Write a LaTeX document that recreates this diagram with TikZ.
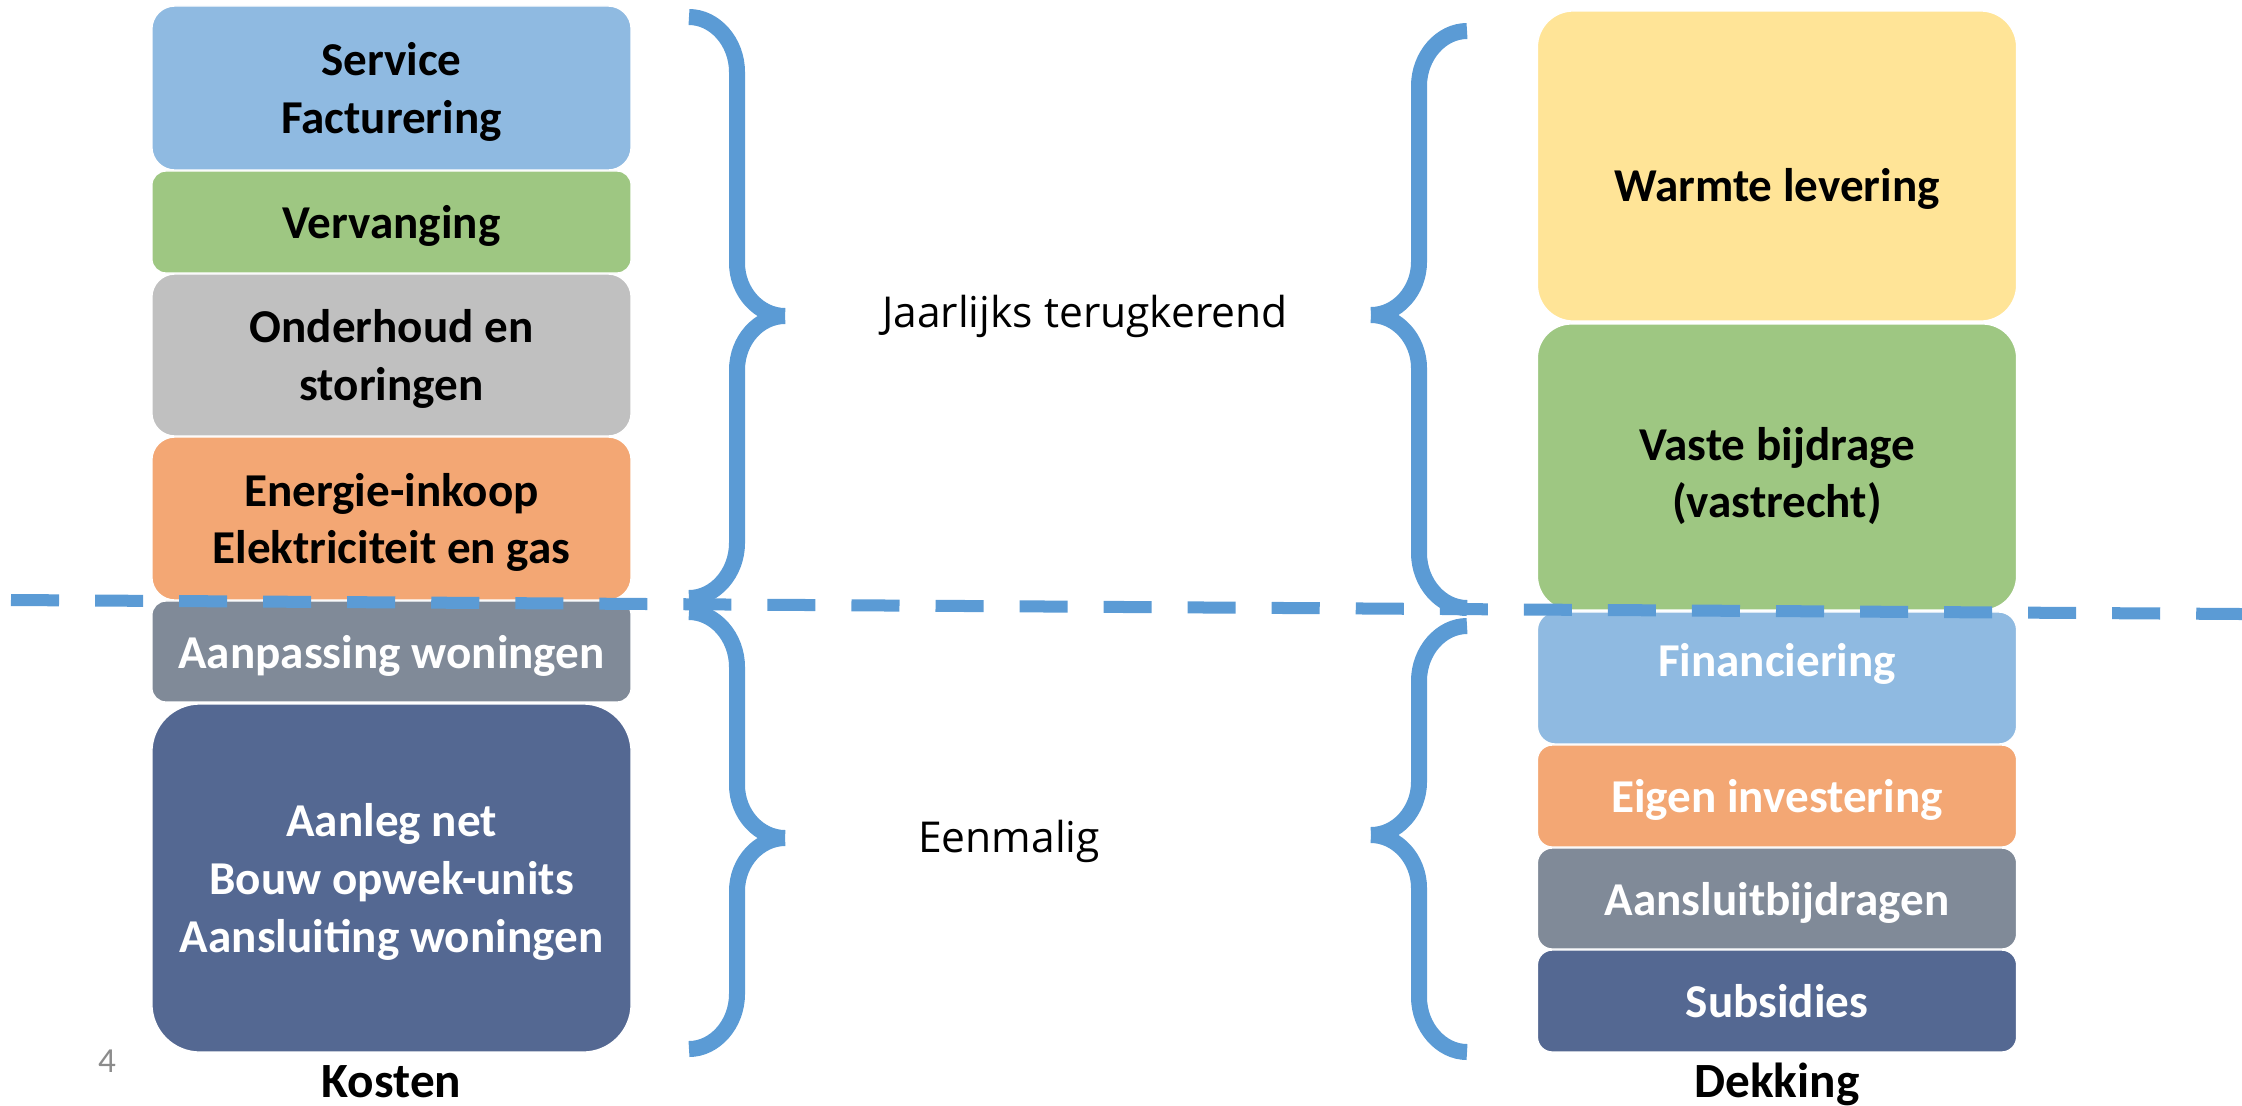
\documentclass[tikz,border=0pt]{standalone}
\usepackage{fontspec}
\setmainfont{Carlito}
\newfontfamily\midfont{Open Sans}
\definecolor{boxblue}{HTML}{8FBAE1}
\definecolor{boxgreen}{HTML}{9EC782}
\definecolor{boxgrey}{HTML}{C0C0C0}
\definecolor{boxorange}{HTML}{F3A774}
\definecolor{boxslate}{HTML}{808A98}
\definecolor{boxnavy}{HTML}{546892}
\definecolor{boxyellow}{HTML}{FFE497}
\definecolor{braceblue}{HTML}{5B9BD5}
\definecolor{pagegrey}{HTML}{8C8C8C}
\begin{document}
\begin{tikzpicture}[x=0.01cm,y=-0.01cm,
	boxtext/.style={font=\fontsize{13.4pt}{16.4pt}\selectfont\bfseries,align=center,text depth=0pt},
	box/.style={boxtext,rounded corners=#1,draw=white,line width=0.4pt,minimum width=4.79cm,inner sep=0pt},
	brace/.style={braceblue,line width=0.16cm},
	divider/.style={braceblue,line width=0.12cm,dash pattern=on 0.48cm off 0.36cm},
	midtext/.style={font=\midfont\fontsize{12.1pt}{14pt}\selectfont}]
	\useasboundingbox (0,0) rectangle (2242,1105);
	% Kosten
	\node[box=0.23cm,fill=boxblue,minimum height=1.64cm] (serv) at (391.5,88) {Service\\Facturering};
	\node[box=0.14cm,fill=boxgreen,minimum height=1.02cm] (verv) at (391.5,222) {Vervanging};
	\node[box=0.23cm,fill=boxgrey,minimum height=1.62cm] (onder) at (391.5,355) {Onderhoud en\\storingen};
	\node[box=0.23cm,fill=boxorange,minimum height=1.63cm] (energie) at (391.5,518.5) {Energie-inkoop\\Elektriciteit en gas};
	\node[box=0.14cm,fill=boxslate,minimum height=1.01cm,text=white] (aanpas) at (391.5,651.5) {Aanpassing woningen};
	\node[box=0.48cm,fill=boxnavy,minimum height=3.48cm,text=white] (aanleg) at (391.5,878) {Aanleg net\\Bouw opwek-units\\Aansluiting woningen};
	% Dekking
	\node[box=0.36cm,fill=boxyellow,minimum height=3.10cm,label={[boxtext,yshift=-0.19cm]center:Warmte levering}] (warmte) at (1777,166) {};
	\node[box=0.34cm,fill=boxgreen,minimum height=2.86cm,label={[boxtext,yshift=-0.055cm]center:{Vaste bijdrage\\(vastrecht)}}] (vaste) at (1777,467) {};
	\node[box=0.18cm,fill=boxblue,minimum height=1.32cm,label={[boxtext,text=white,yshift=0.185cm]center:Financiering}] (fin) at (1777,678) {};
	\node[box=0.15cm,fill=boxorange,minimum height=1.02cm,text=white] (eigen) at (1777,796) {Eigen investering};
	\node[box=0.15cm,fill=boxslate,minimum height=1.01cm,text=white] (aansl) at (1777,898.5) {Aansluitbijdragen};
	\node[box=0.15cm,fill=boxnavy,minimum height=1.02cm,text=white] (subs) at (1777,1001) {Subsidies};
	%Braces
	\draw[brace] (689,17) .. controls (715,17) and (737,42) .. (737,72) -- (737,263) .. controls (737,292) and (759,316) .. (785,316)
		(785,316) .. controls (759,316) and (737,340) .. (737,370) -- (737,543) .. controls (737,573) and (715,598) .. (689,598);
	\draw[brace] (689,612) .. controls (715,612) and (737,637) .. (737,667) -- (737,785) .. controls (737,814) and (759,838) .. (785,838)
		(785,838) .. controls (759,838) and (737,862) .. (737,891) -- (737,994) .. controls (737,1024) and (715,1049) .. (689,1049);
	\draw[brace] (1467,31) .. controls (1441,31) and (1419,56) .. (1419,86) -- (1419,262) .. controls (1419,291) and (1397,315) .. (1371,315)
		(1371,315) .. controls (1397,315) and (1419,339) .. (1419,368) -- (1419,553) .. controls (1419,583) and (1441,608) .. (1467,608);
	\draw[brace] (1467,626) .. controls (1441,626) and (1419,651) .. (1419,681) -- (1419,782) .. controls (1419,811) and (1397,835) .. (1371,835)
		(1371,835) .. controls (1397,835) and (1419,859) .. (1419,888) -- (1419,997) .. controls (1419,1027) and (1441,1052) .. (1467,1052);
	%Divider
	\coordinate (divleft) at (11,600);
	\coordinate (divright) at (2242,614);
	\draw[divider] (divleft) -- (divright);
	%Labels
	\node[midtext] (jaarlijks) at (1085,316) {Jaarlijks terugkerend};
	\node[midtext] (eenmalig) at (1009,841) {Eenmalig};
	\node[text=pagegrey,font=\fontsize{10pt}{12pt}\selectfont] (pagenr) at (107,1061) {4};
	\node[font=\fontsize{14pt}{16pt}\selectfont\bfseries,anchor=base] (kosten) at (391.5,1097) {Kosten};
	\node[font=\fontsize{14pt}{16pt}\selectfont\bfseries,anchor=base] (dekking) at (1777,1097) {Dekking};
\end{tikzpicture}
\end{document}
